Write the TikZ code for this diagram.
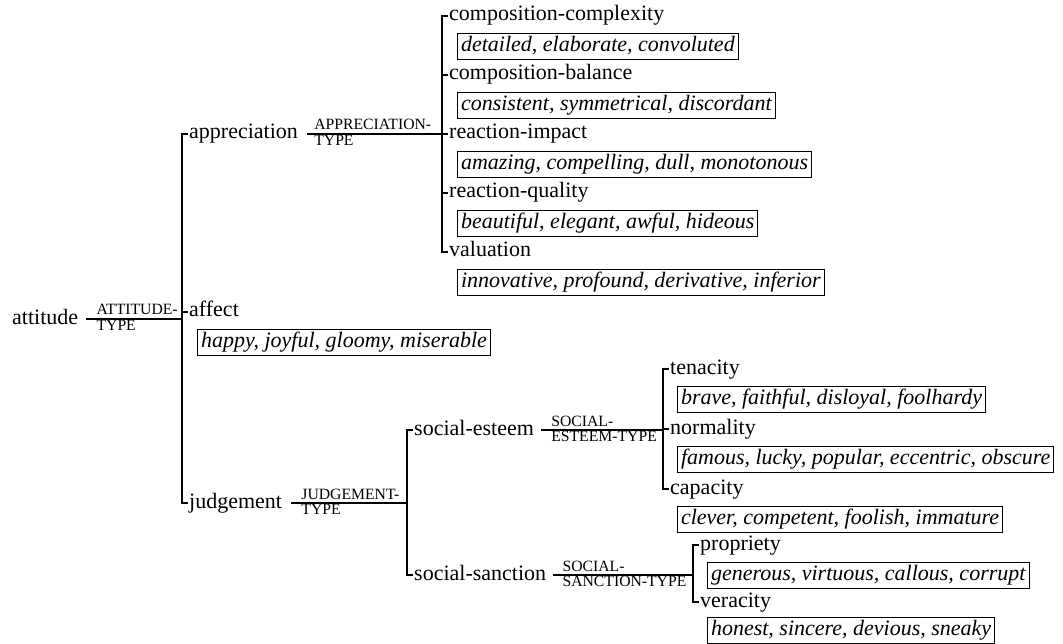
\documentclass[tikz,border=0pt]{standalone}
\usepackage{fontspec}
\setmainfont{Liberation Serif}
\begin{document}
\begin{tikzpicture}[x=1pt,y=-1pt,
  con/.style={line width=1.1pt},
  lbl/.style={font=\fontsize{22}{26}\selectfont, inner sep=0pt, text height=10pt, text depth=0pt, anchor=west},
  ex/.style={draw, line width=1pt, font=\fontsize{22}{26}\selectfont\itshape, inner xsep=3.5pt, inner ysep=3pt, text height=15pt, text depth=5pt, anchor=north west},
  sysu/.style={font=\fontsize{15.7}{16}\selectfont, inner sep=0pt, anchor=base west}]
\path[fill=white,use as bounding box] (0,0) rectangle (1063,644);

% vertical bar x positions
\coordinate (v0) at (182,0);
\coordinate (v1) at (442,0);
\coordinate (v2) at (407,0);
\coordinate (v3) at (663,0);
\coordinate (v4) at (693,0);

% root
\node[lbl] (att) at (12,319) {attitude};

% level 1
\node[lbl] (app) at (189,134) {appreciation};
\node[lbl] (aff) at (189,312) {affect};
\node[ex]  (affx) at (197,329) {happy, joyful, gloomy, miserable};
\node[lbl] (jud) at (189,503) {judgement};

% appreciation children
\node[lbl] (cc)  at (449,16)  {composition-complexity};
\node[ex]  (ccx) at (457,33)  {detailed, elaborate, convoluted};
\node[lbl] (cb)  at (449,75)  {composition-balance};
\node[ex]  (cbx) at (457,92)  {consistent, symmetrical, discordant};
\node[lbl] (ri)  at (449,134) {reaction-impact};
\node[ex]  (rix) at (457,151) {amazing, compelling, dull, monotonous};
\node[lbl] (rq)  at (449,193) {reaction-quality};
\node[ex]  (rqx) at (457,210) {beautiful, elegant, awful, hideous};
\node[lbl] (val) at (449,252) {valuation};
\node[ex]  (valx) at (457,269) {innovative, profound, derivative, inferior};

% judgement children
\node[lbl] (se) at (414,430) {social-esteem};
\node[lbl] (ss) at (414,575) {social-sanction};

% social-esteem children
\node[lbl] (ten)  at (670,369) {tenacity};
\node[ex]  (tenx) at (677,386) {brave, faithful, disloyal, foolhardy};
\node[lbl] (nor)  at (670,429) {normality};
\node[ex]  (norx) at (677,446) {famous, lucky, popular, eccentric, obscure};
\node[lbl] (cap)  at (670,489) {capacity};
\node[ex]  (capx) at (677,506) {clever, competent, foolish, immature};

% social-sanction children
\node[lbl] (pro)  at (700,545) {propriety};
\node[ex]  (prox) at (707,562) {generous, virtuous, callous, corrupt};
\node[lbl] (ver)  at (700,602) {veracity};
\node[ex]  (verx) at (707,617) {honest, sincere, devious, sneaky};

% parent lines with system labels
\draw[con] (att.east) ++(8,0) coordinate (attS) -- (att.east -| v0);
\node[sysu] at ([shift={(10pt,4pt)}]attS) {ATTITUDE-};
\node[sysu] at ([shift={(10pt,-11.5pt)}]attS) {TYPE};

\draw[con] (app.east) ++(9,0) coordinate (appS) -- (app.east -| v1);
\node[sysu] at ([shift={(7pt,4pt)}]appS) {APPRECIATION-};
\node[sysu] at ([shift={(7pt,-11.5pt)}]appS) {TYPE};

\draw[con] (jud.east) ++(9,0) coordinate (judS) -- (jud.east -| v2);
\node[sysu] at ([shift={(10pt,4pt)}]judS) {JUDGEMENT-};
\node[sysu] at ([shift={(10pt,-11.5pt)}]judS) {TYPE};

\draw[con] (se.east) ++(7,0) coordinate (seS) -- (se.east -| v3);
\node[sysu] at ([shift={(10pt,4pt)}]seS) {SOCIAL-};
\node[sysu] at ([shift={(10pt,-11.5pt)}]seS) {ESTEEM-TYPE};

\draw[con] (ss.east) ++(7,0) coordinate (ssS) -- (ss.east -| v4);
\node[sysu] at ([shift={(9pt,4pt)}]ssS) {SOCIAL-};
\node[sysu] at ([shift={(9pt,-11.5pt)}]ssS) {SANCTION-TYPE};

% brackets
\draw[con] ([xshift=-1.5pt]app.west) -- (app.west -| v0) -- (jud.west -| v0) -- ([xshift=-1.5pt]jud.west);
\draw[con] ([xshift=-1.5pt]aff.west) -- (aff.west -| v0);

\draw[con] ([xshift=-1.5pt]cc.west) -- (cc.west -| v1) -- (val.west -| v1) -- ([xshift=-1.5pt]val.west);
\foreach \n in {cb,ri,rq} \draw[con] ([xshift=-1.5pt]\n.west) -- (\n.west -| v1);

\draw[con] ([xshift=-1.5pt]se.west) -- (se.west -| v2) -- (ss.west -| v2) -- ([xshift=-1.5pt]ss.west);

\draw[con] ([xshift=-1.5pt]ten.west) -- (ten.west -| v3) -- (cap.west -| v3) -- ([xshift=-1.5pt]cap.west);
\draw[con] ([xshift=-1.5pt]nor.west) -- (nor.west -| v3);

\draw[con] ([xshift=-1.5pt]pro.west) -- (pro.west -| v4) -- (ver.west -| v4) -- ([xshift=-1.5pt]ver.west);
\end{tikzpicture}
\end{document}
